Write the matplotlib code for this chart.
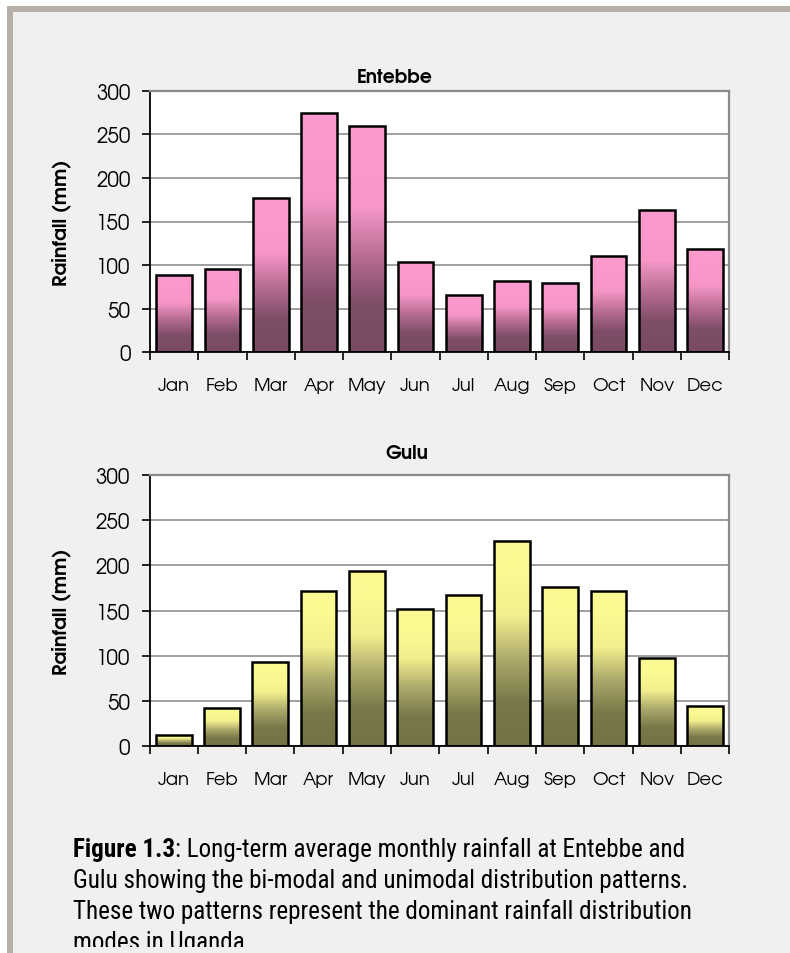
import numpy as np
import matplotlib
matplotlib.use("Agg")
import matplotlib.pyplot as plt
from matplotlib.patches import Rectangle
from matplotlib.colors import LinearSegmentedColormap
from matplotlib.transforms import Bbox, TransformedBbox
from matplotlib.textpath import TextPath
from matplotlib.font_manager import FontProperties, findfont

months = ["Jan", "Feb", "Mar", "Apr", "May", "Jun", "Jul", "Aug", "Sep", "Oct", "Nov", "Dec"]
entebbe = [89, 96, 177, 275, 259, 103, 66, 82, 80, 110, 163, 119]
gulu = [13, 42, 93, 172, 194, 152, 167, 227, 176, 172, 97, 44]
yticks = [0, 50, 100, 150, 200, 250, 300]
caption_bold = "Figure 1.3"
caption_lines = [
    ": Long-term average monthly rainfall at Entebbe and",
    "Gulu showing the bi-modal and unimodal distribution patterns.",
    "These two patterns represent the dominant rainfall distribution",
    "modes in Uganda",
]

W, H = 790, 954
fig = plt.figure(figsize=(W / 100, H / 100), dpi=100)
fig.patch.set_facecolor("white")


def fx(px):
    return px / W


def fy(py):
    return 1 - py / H


def has_font(fam):
    try:
        findfont(FontProperties(family=fam), fallback_to_default=False)
        return True
    except Exception:
        return False


def ink_width(text, fam, weight="normal", size=1.0):
    return TextPath((0, 0), text, size=size, prop=FontProperties(family=fam, weight=weight)).get_extents().width


def fit_pt(text, fam, weight, target_px):
    w1 = ink_width(text, fam, weight, size=10.0) / 10.0
    return target_px / w1 * 72 / 100


chart_font = "TeX Gyre Adventor" if has_font("TeX Gyre Adventor") else "DejaVu Sans"

# frame
fig.patches.append(Rectangle((fx(7), 0), 1 - fx(7), fy(7), transform=fig.transFigure,
                             facecolor="#b6afa7", edgecolor="none", zorder=-10))
fig.patches.append(Rectangle((fx(13), 0), 1 - fx(13), fy(13), transform=fig.transFigure,
                             facecolor="#f1f0ee", edgecolor="none", zorder=-9))

pink_cmap = LinearSegmentedColormap.from_list("pink", ["#7a4a64", "#7e4d68", "#b86d93", "#f697c8", "#fa9acc"])
yellow_cmap = LinearSegmentedColormap.from_list("yel", ["#737343", "#787849", "#aeaa6c", "#f2f08e", "#fbfa92"])

ytick_pt = fit_pt("300", chart_font, "normal", 33)
month_pt = fit_pt("May", chart_font, "normal", 37)
title_pt = fit_pt("Entebbe", chart_font, "bold", 74)
ylab_pt = fit_pt("Rainfall (mm)", chart_font, "bold", 124)


def draw(ax_rect, values, cmap, title, title_xy):
    ax = fig.add_axes(ax_rect)
    ax.set_facecolor("white")
    x = np.arange(len(values))
    bars = ax.bar(x, values, width=0.74, facecolor="none", edgecolor="black", linewidth=1.8, zorder=3)
    grad = np.linspace(0, 1, 256).reshape(-1, 1)
    grad = np.clip(grad / 0.85, 0, 1)
    for b in bars:
        x0, y0 = b.get_x(), b.get_y()
        w, h = b.get_width(), b.get_height()
        im = ax.imshow(grad, cmap=cmap, extent=(x0, x0 + w, y0, y0 + h), origin="lower",
                       aspect="auto", zorder=2, interpolation="bilinear")
        im.set_clip_path(b)
    ax.set_xlim(-0.5, len(values) - 0.5)
    ax.set_ylim(0, 300)
    ax.set_yticks(yticks)
    ax.set_yticklabels([str(v) for v in yticks], fontsize=ytick_pt, family=chart_font)
    ax.yaxis.grid(True, color="#8f8f8f", linewidth=1.2, zorder=1)
    ax.set_axisbelow(True)
    ax.tick_params(axis="y", direction="out", length=6, width=1.2, pad=8, colors="black")
    ax.set_xticks(x)
    ax.set_xticklabels(months, fontsize=month_pt, family=chart_font)
    ax.tick_params(axis="x", which="major", length=0, pad=18)
    ax.set_xticks(np.arange(-0.5, len(values) + 0.5, 1), minor=True)
    ax.tick_params(axis="x", which="minor", direction="out", length=6, width=1.2)
    for s in ["left", "bottom"]:
        ax.spines[s].set_color("black")
        ax.spines[s].set_linewidth(1.3)
    for s in ["top", "right"]:
        ax.spines[s].set_color("#8a8a8a")
        ax.spines[s].set_linewidth(1.6)
    fig.text(fx(title_xy[0]), fy(title_xy[1]), title, fontsize=title_pt, fontweight="bold",
             family=chart_font, ha="center", va="baseline")
    ycen = ax_rect[1] + ax_rect[3] / 2
    fig.text(fx(61), ycen, "Rainfall (mm)", fontsize=ylab_pt, fontweight="bold", family=chart_font,
             rotation=90, ha="center", va="center")
    return ax


draw([fx(150), fy(353.3), fx(729.3) - fx(150), (353.3 - 91.7) / H], entebbe, pink_cmap, "Entebbe", (395, 83))
draw([fx(149.5), fy(747.3), fx(729.3) - fx(149.5), (747.3 - 475.7) / H], gulu, yellow_cmap, "Gulu", (407, 459))

# caption font: pick an Arial-like sans whose cap height is closest to the reference when fitted to width
candidates = ["TeX Gyre Heros Cn", "Liberation Sans", "Roboto Condensed", "Archivo Narrow", "PT Sans Narrow"]
cap_x0 = 73.0
target_w, target_cap = 607.0, 17.0
best = None
for fam in candidates:
    if not has_font(fam):
        continue
    try:
        w1 = (ink_width(caption_bold, fam, "bold", 10.0) + ink_width(caption_lines[0], fam, "normal", 10.0)) / 10.0
        spx = target_w / w1
        cap = TextPath((0, 0), "H", size=spx, prop=FontProperties(family=fam)).get_extents().height
        score = abs(cap - target_cap)
        if best is None or score < best[0]:
            best = (score, fam, spx)
    except Exception:
        continue
if best is None:
    cap_font, cap_pt = "Liberation Sans", 16
else:
    cap_font, cap_pt = best[1], best[2] * 72 / 100

baselines = [857, 888, 919, 950]
clip = TransformedBbox(Bbox([[0, fy(948)], [1, 1]]), fig.transFigure)
t0 = fig.text(fx(cap_x0), fy(baselines[0]), caption_bold, family=cap_font, fontsize=cap_pt,
              fontweight="bold", ha="left", va="baseline")
fig.canvas.draw()
bb = t0.get_window_extent()
fig.text(bb.x1 / fig.bbox.width, fy(baselines[0]), caption_lines[0], family=cap_font, fontsize=cap_pt,
         ha="left", va="baseline")
for ln, yb in zip(caption_lines[1:], baselines[1:]):
    t = fig.text(fx(cap_x0), fy(yb), ln, family=cap_font, fontsize=cap_pt, ha="left", va="baseline")
    t.set_clip_box(clip)
    t.set_clip_on(True)

fig.savefig("out.png", dpi=100, facecolor=fig.get_facecolor())
